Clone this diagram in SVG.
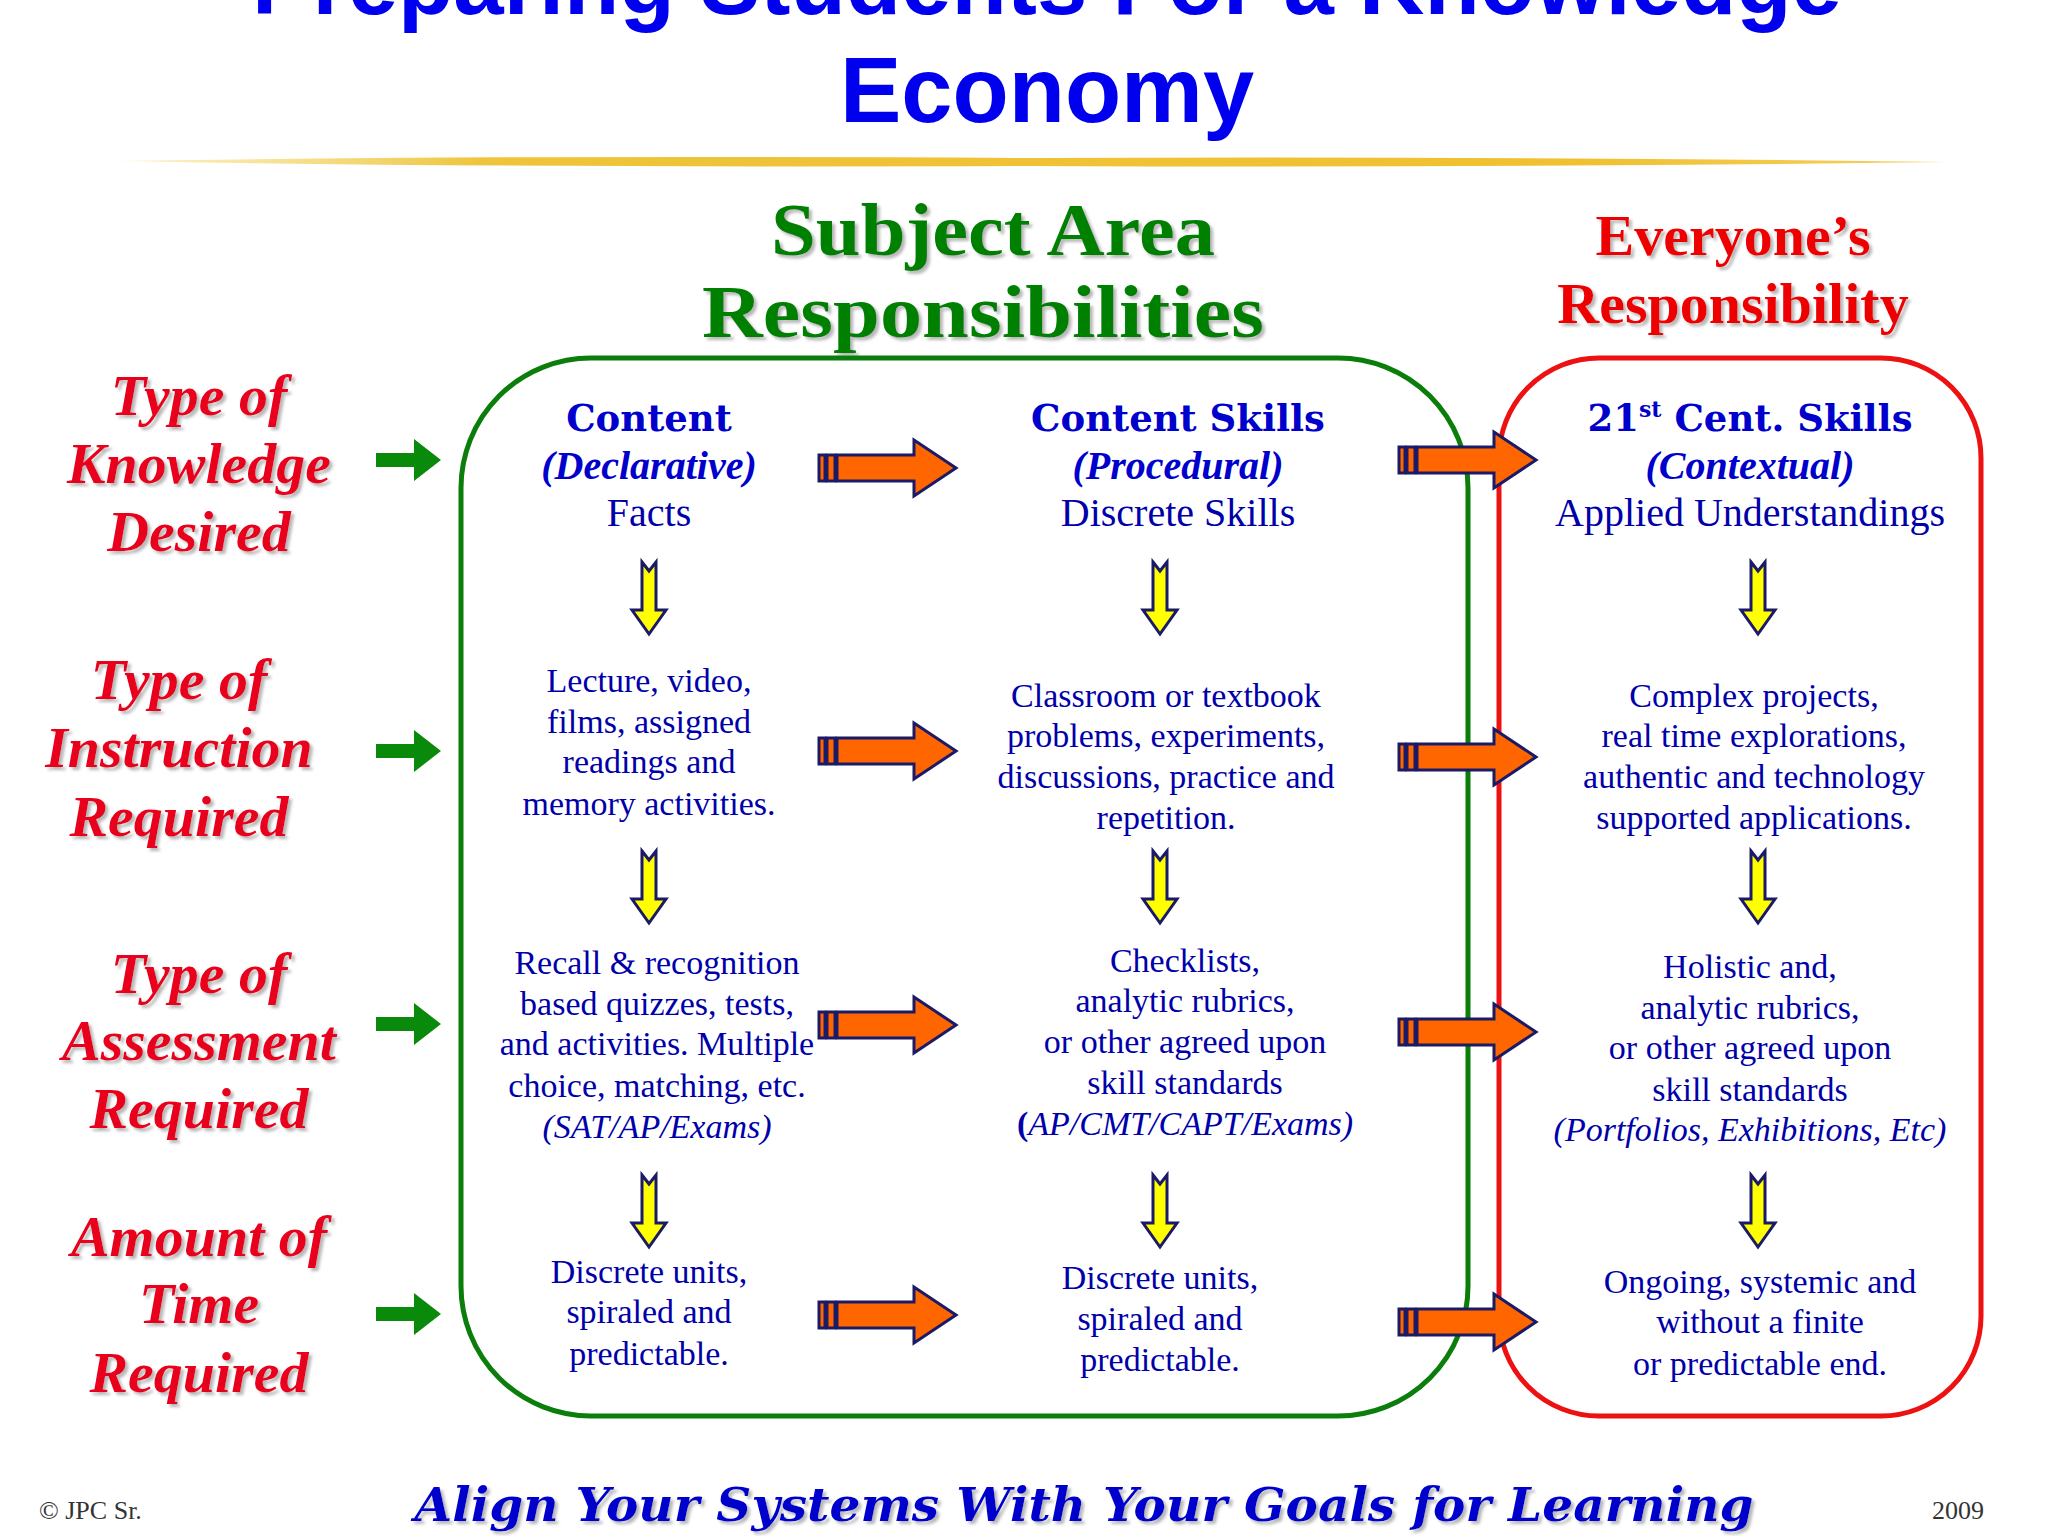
<svg xmlns="http://www.w3.org/2000/svg" width="2048" height="1536" viewBox="0 0 2048 1536">
<defs>
<style>
.title{font-family:"Liberation Sans",Arial,sans-serif;font-weight:bold;fill:#0000ee;font-size:92px;text-anchor:middle}
.hg{font-family:"Liberation Serif","DejaVu Serif",serif;font-weight:bold;fill:#008000;font-size:74px;text-anchor:middle}
.hr{font-family:"Liberation Serif","DejaVu Serif",serif;font-weight:bold;fill:#ee0000;font-size:58px;text-anchor:middle}
.lab{font-family:"Liberation Serif","DejaVu Serif",serif;font-weight:bold;font-style:italic;fill:#e8001c;font-size:58px;text-anchor:middle}
.ch{font-family:"DejaVu Serif","Liberation Serif",serif;font-weight:bold;fill:#0000cc;font-size:37px;text-anchor:middle}
.ci{font-family:"Liberation Serif",serif;font-weight:bold;font-style:italic;fill:#0000cc;font-size:40px;text-anchor:middle}
.t{font-family:"Liberation Serif",serif;fill:#0000aa;font-size:34px;text-anchor:middle}
.tb{font-family:"Liberation Serif",serif;fill:#0000aa;font-size:40px;text-anchor:middle}
.foot{font-family:"DejaVu Serif","Liberation Serif",serif;font-weight:bold;font-style:italic;fill:#0000cc;font-size:46px;text-anchor:middle}
.small{font-family:"Liberation Serif",serif;fill:#333;font-size:26px}
</style>
<filter id="sh" x="-5%" y="-5%" width="110%" height="120%"><feDropShadow dx="3" dy="3" stdDeviation="1.5" flood-color="#999" flood-opacity="0.7"/></filter>
<linearGradient id="gold" x1="0" x2="1"><stop offset="0" stop-color="#f5dc7a" stop-opacity="0.4"/><stop offset="0.2" stop-color="#efc43a"/><stop offset="0.8" stop-color="#f0c030"/><stop offset="1" stop-color="#f5d060"/></linearGradient>
<g id="oa"><rect x="0" y="-13" width="6" height="26" fill="#ff6600" stroke="#1a1a66" stroke-width="3"/><rect x="8" y="-13" width="8" height="26" fill="#ff6600" stroke="#1a1a66" stroke-width="3"/><path d="M18,-13 H95 V-28 L137,0 L95,28 V13 H18 Z" fill="#ff6600" stroke="#1a1a66" stroke-width="3" stroke-linejoin="miter"/></g>
<path id="ya" d="M-7,0 L0,9 L7,0 V48 H17 L0,72 L-17,48 H-7 Z" fill="#ffff00" stroke="#1a1a66" stroke-width="3"/>
<path id="ga" d="M0,-7 H38 V-21 L65,0 L38,21 V7 H0 Z" fill="#0a8a0a"/>
</defs>
<rect width="2048" height="1536" fill="#fff"/>
<g id="title">
<text class="title" x="1047" y="14" textLength="1590" lengthAdjust="spacingAndGlyphs">Preparing Students For a Knowledge</text>
<text class="title" x="1047" y="122">Economy</text>
<path d="M118,161 Q500,155 1030,158 Q1500,156 1946,162 Q1500,168 1030,166 Q500,168 118,161 Z" fill="url(#gold)"/>
</g>
<g id="headers" filter="url(#sh)">
<text class="hg" x="993" y="255" textLength="444" lengthAdjust="spacingAndGlyphs">Subject Area</text>
<text class="hg" x="983" y="337" textLength="562" lengthAdjust="spacingAndGlyphs">Responsibilities</text>
<text class="hr" x="1733" y="255">Everyone’s</text>
<text class="hr" x="1733" y="323">Responsibility</text>
</g>
<g id="boxes">
<rect x="461" y="358" width="1007" height="1058" rx="130" fill="none" stroke="#0a7d0a" stroke-width="5"/>
<rect x="1499" y="358" width="482" height="1058" rx="100" fill="none" stroke="#ee1111" stroke-width="5"/>
</g>
<g id="labels" filter="url(#sh)">
<text class="lab" x="199" y="415">Type of</text><text class="lab" x="199" y="483">Knowledge</text><text class="lab" x="199" y="551">Desired</text>
<text class="lab" x="179" y="699">Type of</text><text class="lab" x="179" y="767">Instruction</text><text class="lab" x="179" y="836">Required</text>
<text class="lab" x="199" y="993">Type of</text><text class="lab" x="199" y="1060">Assessment</text><text class="lab" x="199" y="1128">Required</text>
<text class="lab" x="199" y="1256">Amount of</text><text class="lab" x="199" y="1323">Time</text><text class="lab" x="199" y="1392">Required</text>
</g>
<g id="col1">
<text class="ch" x="649" y="431">Content</text>
<text class="ci" x="649" y="479">(Declarative)</text>
<text class="tb" x="649" y="526">Facts</text>
<text class="t" x="649" y="692">Lecture, video,</text><text class="t" x="649" y="733">films, assigned</text><text class="t" x="649" y="773">readings and</text><text class="t" x="649" y="815">memory activities.</text>
<text class="t" x="657" y="974">Recall &amp; recognition</text><text class="t" x="657" y="1015">based quizzes, tests,</text><text class="t" x="657" y="1055">and activities. Multiple</text><text class="t" x="657" y="1097">choice, matching, etc.</text><text class="t" x="657" y="1138" font-style="italic">(SAT/AP/Exams)</text>
<text class="t" x="649" y="1283">Discrete units,</text><text class="t" x="649" y="1323">spiraled and</text><text class="t" x="649" y="1365">predictable.</text>
</g>
<g id="col2">
<text class="ch" x="1178" y="431">Content Skills</text>
<text class="ci" x="1178" y="479">(Procedural)</text>
<text class="tb" x="1178" y="526">Discrete Skills</text>
<text class="t" x="1166" y="707">Classroom or textbook</text><text class="t" x="1166" y="747">problems, experiments,</text><text class="t" x="1166" y="788">discussions, practice and</text><text class="t" x="1166" y="829">repetition.</text>
<text class="t" x="1185" y="972">Checklists,</text><text class="t" x="1185" y="1012">analytic rubrics,</text><text class="t" x="1185" y="1053">or other agreed upon</text><text class="t" x="1185" y="1094">skill standards</text><text class="t" x="1185" y="1135"><tspan font-weight="bold">(</tspan><tspan font-style="italic">AP/CMT/CAPT/Exams)</tspan></text>
<text class="t" x="1160" y="1289">Discrete units,</text><text class="t" x="1160" y="1330">spiraled and</text><text class="t" x="1160" y="1371">predictable.</text>
</g>
<g id="col3">
<text class="ch" x="1750" y="431">21<tspan font-size="22" dy="-14">st</tspan><tspan dy="14"> Cent. Skills</tspan></text>
<text class="ci" x="1750" y="479">(Contextual)</text>
<text class="tb" x="1750" y="526">Applied Understandings</text>
<text class="t" x="1754" y="707">Complex projects,</text><text class="t" x="1754" y="747">real time explorations,</text><text class="t" x="1754" y="788">authentic and technology</text><text class="t" x="1754" y="829">supported applications.</text>
<text class="t" x="1750" y="978">Holistic and,</text><text class="t" x="1750" y="1019">analytic rubrics,</text><text class="t" x="1750" y="1059">or other agreed upon</text><text class="t" x="1750" y="1101">skill standards</text><text class="t" x="1750" y="1141" font-style="italic">(Portfolios, Exhibitions, Etc)</text>
<text class="t" x="1760" y="1293">Ongoing, systemic and</text><text class="t" x="1760" y="1333">without a finite</text><text class="t" x="1760" y="1375">or predictable end.</text>
</g>
<g id="connectors">
<use href="#ga" x="376" y="460"/><use href="#ga" x="376" y="751"/><use href="#ga" x="376" y="1024"/><use href="#ga" x="376" y="1314"/>
<use href="#oa" x="819" y="468"/><use href="#oa" x="819" y="751"/><use href="#oa" x="819" y="1025"/><use href="#oa" x="819" y="1315"/>
<use href="#oa" x="1399" y="460"/><use href="#oa" x="1399" y="757"/><use href="#oa" x="1399" y="1032"/><use href="#oa" x="1399" y="1322"/>
<use href="#ya" x="649" y="562"/><use href="#ya" x="1160" y="562"/><use href="#ya" x="1758" y="562"/>
<use href="#ya" x="649" y="851"/><use href="#ya" x="1160" y="851"/><use href="#ya" x="1758" y="851"/>
<use href="#ya" x="649" y="1175"/><use href="#ya" x="1160" y="1175"/><use href="#ya" x="1758" y="1175"/>
</g>
<g id="footer">
<text class="small" x="39" y="1519">© JPC Sr.</text>
<text class="small" x="1984" y="1519" text-anchor="end">2009</text>
<text class="foot" x="1084" y="1521" textLength="1339" lengthAdjust="spacingAndGlyphs" filter="url(#sh)">Align Your Systems With Your Goals for Learning</text>
</g>
</svg>
